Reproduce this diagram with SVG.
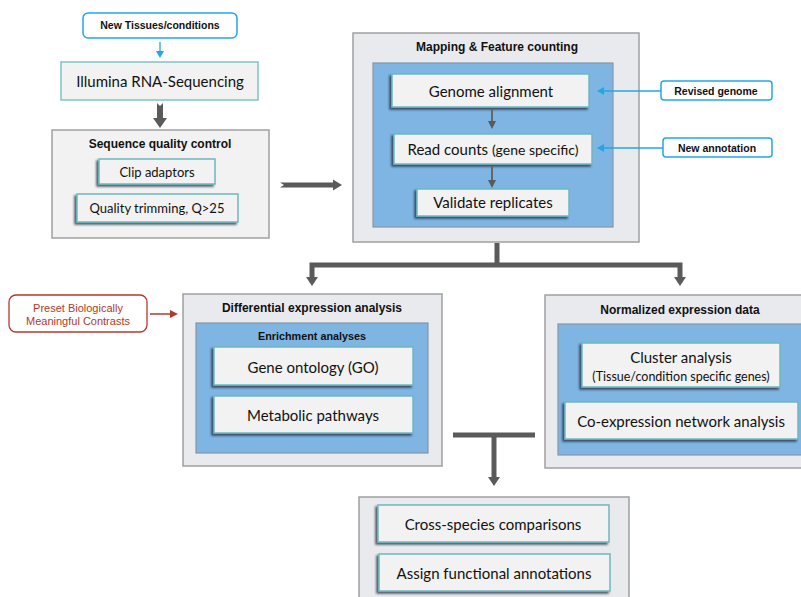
<svg xmlns="http://www.w3.org/2000/svg" width="801" height="597" viewBox="0 0 801 597">
<style>
.bg{fill:#ffffff}
.outer{fill:#f2f2f2;stroke:#a0a0a0;stroke-width:1.5}
.outer2{fill:#e8eaee;stroke:#a0a0a0;stroke-width:1.5}
.inner{fill:#7fb5e2;stroke:#8795a6;stroke-width:1.2}
.card{fill:#f2f2f2;stroke:#6fb8bf;stroke-width:1.5;filter:url(#sh)}
.plain{fill:#f2f2f2;stroke:#7ec3ca;stroke-width:1.5}
.blue{fill:#ffffff;stroke:#22a6e6;stroke-width:1.5}
.red{fill:#ffffff;stroke:#b5392a;stroke-width:1.3}
.tb{font-family:"Liberation Sans",Arial,sans-serif;font-weight:bold;fill:#111;text-anchor:middle}
.tc{font-family:Lato,"Open Sans",sans-serif;fill:#111;text-anchor:middle}
.tr{font-family:"Liberation Sans",Arial,sans-serif;fill:#b5392a;text-anchor:middle;font-size:11px}
.gl{stroke:#5a5a5a;stroke-width:5;fill:none}
.ga{fill:#5a5a5a}
.sl{stroke:#666;stroke-width:2;fill:none}
.bl{stroke:#22a6e6;stroke-width:1.3;fill:none}
.ba{fill:#22a6e6}
</style>
<defs>
<filter id="sh" x="-10%" y="-20%" width="120%" height="150%">
<feDropShadow dx="-2" dy="2" stdDeviation="1" flood-color="#1a2a3a" flood-opacity="0.75"/>
</filter>
</defs>
<rect class="bg" x="0" y="0" width="801" height="597"/>

<g id="new-tissues">
<rect class="blue" x="83" y="13" width="154" height="25" rx="5"/>
<text class="tb" x="160" y="29" font-size="10.5">New Tissues/conditions</text>
</g>

<g id="illumina">
<rect class="plain" x="61" y="62" width="197" height="38"/>
<text class="tc" x="160" y="87" font-size="15">Illumina RNA-Sequencing</text>
</g>

<g id="seq-qc">
<rect class="outer" x="52" y="130" width="217" height="108"/>
<text class="tb" x="160" y="148" font-size="12">Sequence quality control</text>
<rect class="card" x="99" y="159" width="116" height="25"/>
<text class="tc" x="157" y="176.5" font-size="13">Clip adaptors</text>
<rect class="card" x="77" y="194" width="161" height="28"/>
<text class="tc" x="157" y="212.5" font-size="13">Quality trimming, Q&gt;25</text>
</g>

<g id="mapping">
<rect class="outer2" x="353" y="33" width="286" height="209"/>
<text class="tb" x="497" y="51" font-size="12">Mapping &amp; Feature counting</text>
<rect class="inner" x="373" y="63" width="240" height="164"/>
<rect class="card" x="392" y="74" width="197" height="33"/>
<text class="tc" x="491" y="96.5" font-size="15">Genome alignment</text>
<rect class="card" x="394" y="134" width="198" height="30"/>
<text class="tc" x="493" y="154.5" font-size="15">Read counts <tspan font-size="14">(gene specific)</tspan></text>
<rect class="card" x="417" y="189" width="152" height="27"/>
<text class="tc" x="493" y="207.5" font-size="15">Validate replicates</text>
</g>

<g id="revised-genome">
<rect class="blue" x="661" y="81" width="111" height="19" rx="3"/>
<text class="tb" x="716" y="95" font-size="10.5">Revised genome</text>
</g>

<g id="new-annotation">
<rect class="blue" x="663" y="138" width="109" height="19" rx="3"/>
<text class="tb" x="717" y="152" font-size="10.5">New annotation</text>
</g>

<g id="preset">
<rect class="red" x="9" y="295" width="138" height="37" rx="7"/>
<text class="tr" x="78" y="312">Preset Biologically</text>
<text class="tr" x="78" y="325">Meaningful Contrasts</text>
</g>

<g id="differential">
<rect class="outer2" x="183" y="294" width="259" height="172"/>
<text class="tb" x="312" y="312" font-size="12">Differential expression analysis</text>
<rect class="inner" x="196" y="323" width="232" height="130"/>
<text class="tb" x="312" y="340" font-size="10.8">Enrichment analyses</text>
<rect class="card" x="214" y="347" width="199" height="38"/>
<text class="tc" x="313" y="372.5" font-size="15">Gene ontology (GO)</text>
<rect class="card" x="214" y="396" width="199" height="37"/>
<text class="tc" x="313" y="420.5" font-size="15">Metabolic pathways</text>
</g>

<g id="normalized">
<rect class="outer2" x="545" y="295" width="262" height="173"/>
<text class="tb" x="680" y="314" font-size="12">Normalized expression data</text>
<rect class="inner" x="558" y="324" width="250" height="131"/>
<rect class="card" x="582" y="343" width="198" height="44"/>
<text class="tc" x="681" y="362.5" font-size="15">Cluster analysis</text>
<text class="tc" x="681" y="381" font-size="12.5">(Tissue/condition specific genes)</text>
<rect class="card" x="565" y="402" width="233" height="37"/>
<text class="tc" x="681" y="426.5" font-size="15">Co-expression network analysis</text>
</g>

<g id="functional">
<rect class="outer2" x="359" y="497" width="270" height="110"/>
<rect class="card" x="378" y="505" width="231" height="37"/>
<text class="tc" x="493" y="529.5" font-size="15">Cross-species comparisons</text>
<rect class="card" x="379" y="554" width="231" height="37"/>
<text class="tc" x="494" y="578.5" font-size="15">Assign functional annotations</text>
</g>

<g id="connectors">
<line class="bl" x1="160" y1="42" x2="160" y2="52"/>
<polygon class="ba" points="156,51 164,51 160,58"/>
<polygon class="ga" points="157,103 160,106 163,103 163,118 167,118 160,128 153,118 157,118"/>
<polygon class="ga" points="280,182.5 284,185 280,187.5 333,187.5 333,190.5 342,185 333,179.5 333,182.5"/>
<line class="sl" x1="492" y1="109" x2="492" y2="122"/>
<polygon class="ga" points="488,121 496,121 492,129"/>
<line class="sl" x1="492" y1="166" x2="492" y2="181"/>
<polygon class="ga" points="488,180 496,180 492,188"/>
<line class="bl" x1="661" y1="91" x2="603" y2="91"/>
<polygon class="ba" points="604,87 604,95 597,91"/>
<line class="bl" x1="663" y1="148" x2="603" y2="148"/>
<polygon class="ba" points="604,144 604,152 597,148"/>
<line x1="150" y1="314" x2="171" y2="314" stroke="#b5392a" stroke-width="1.5"/>
<polygon fill="#b5392a" points="170,310 170,318 178,314"/>
<line class="gl" x1="497" y1="243" x2="497" y2="265"/>
<polyline class="gl" points="312,278 312,265 680,265 680,278"/>
<polygon class="ga" points="306,277 318,277 312,286"/>
<polygon class="ga" points="674,277 686,277 680,286"/>
<line class="gl" x1="453" y1="435" x2="535" y2="435"/>
<line class="gl" x1="494" y1="435" x2="494" y2="478"/>
<polygon class="ga" points="488,477 500,477 494,486"/>
</g>
</svg>
